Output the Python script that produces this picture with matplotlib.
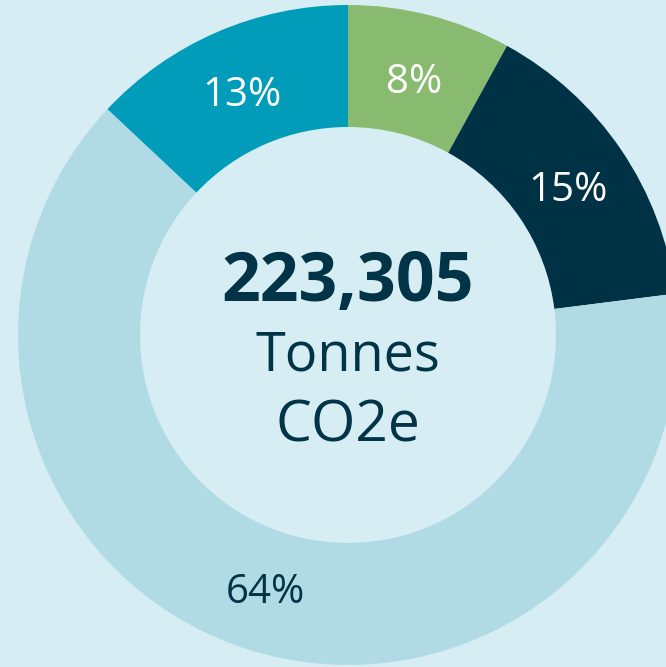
import numpy as np
import matplotlib.pyplot as plt

plt.rcParams['font.family'] = ['Open Sans', 'DejaVu Sans']

labels = ['A', 'B', 'C', 'D']
shares = [8, 15, 64, 13]
colors = ['#88bb6f', '#003245', '#b0dbe5', '#009cba']
pct_colors = ['white', 'white', '#003446', 'white']
total_label = '223,305'
unit_lines = ['Tonnes', 'CO2e']

bg = '#d6eef3'
fig = plt.figure(figsize=(6.66, 6.67), dpi=100, facecolor=bg)
ax = fig.add_axes([0, 0, 1, 1])
ax.set_facecolor(bg)

cx, cy, r = 348, 667 - 335, 330
wedges, _ = ax.pie(shares, colors=colors, startangle=90, counterclock=False,
                   center=(cx, cy), radius=r,
                   wedgeprops=dict(width=r - 208, linewidth=0))

# label positions along the ring
ang = 90 - np.cumsum([0] + shares[:-1]) * 3.6 - np.array(shares) * 1.8
for a, s, c in zip(ang, shares, pct_colors):
    x = cx + 266 * np.cos(np.radians(a))
    y = cy + 266 * np.sin(np.radians(a)) - 5
    ax.text(x, y, f'{s}%', ha='center', va='center', fontsize=29, color=c)

ax.text(cx, 667 - 283, total_label, ha='center', va='center', fontsize=49,
        fontweight='bold', color='#003446')
ax.text(cx, 667 - 356, unit_lines[0], ha='center', va='center', fontsize=39, color='#003446')
ax.text(cx, 667 - 427, unit_lines[1], ha='center', va='center', fontsize=41, color='#003446')

ax.set_xlim(0, 666)
ax.set_ylim(0, 667)
ax.set_aspect('equal')
ax.axis('off')
fig.savefig('out.png', dpi=100, facecolor=bg)
